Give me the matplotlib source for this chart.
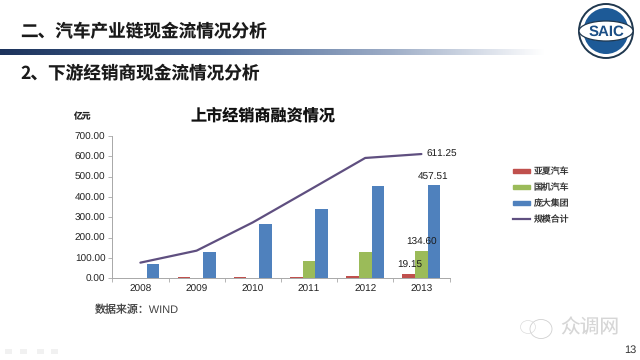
import numpy as np
import matplotlib
matplotlib.use("Agg")
import matplotlib.pyplot as plt
from matplotlib.patches import Ellipse, Rectangle, Patch
from matplotlib.lines import Line2D

CJK = ['Noto Sans CJK SC', 'DejaVu Sans']
LATIN_CJK = ['Liberation Sans', 'Noto Sans CJK SC', 'DejaVu Sans']
plt.rcParams['font.family'] = LATIN_CJK
plt.rcParams['text.hinting'] = 'no_hinting'
plt.rcParams['text.hinting_factor'] = 1

years = ['2008', '2009', '2010', '2011', '2012', '2013']
yaxia = [2, 4, 6, 6, 13, 19.15]
guoji = [0, 0, 0, 87, 127, 134.60]
pangda = [72, 128, 267, 340, 452, 457.51]
total = [77, 136, 275, 433, 592, 611.25]
yticks = [0, 100, 200, 300, 400, 500, 600, 700]
series_names = ['亚夏汽车', '国机汽车', '庞大集团', '规模合计']

W, H = 640, 360
fig = plt.figure(figsize=(6.4, 3.6), dpi=100, facecolor='white')

bg = fig.add_axes([0, 0, 1, 1])
bg.axis('off')

# gradient band
cols = np.array([[0.11, 0.20, 0.36], [0.30, 0.42, 0.60], [0.62, 0.68, 0.78], [1, 1, 1]])
t = np.linspace(0, 1, 256)
grad = np.stack([np.interp(t, [0, .4, .72, 1], cols[:, i]) for i in range(3)], axis=1)[None, :, :]
bg.imshow(grad, extent=[0, 545, 55, 49], aspect='auto', zorder=1)
bg.set_xlim(0, W); bg.set_ylim(H, 0)

bg.text(20, 31.5, '二、汽车产业链现金流情况分析', fontsize=12.7, fontweight='bold', family=CJK,
        color='#1a1a1a', va='center', ha='left')
bg.text(20, 73.5, '2、下游经销商现金流情况分析', fontsize=12.7, fontweight='bold', family=CJK,
        color='#1a1a1a', va='center', ha='left')
bg.text(263, 116, '上市经销商融资情况', fontsize=11.6, fontweight='bold', family=CJK,
        color='#111111', va='center', ha='center')
bg.text(81.5, 116.5, '亿元', fontsize=6.3, fontweight='bold', family=CJK, color='#222222', va='center', ha='center')
bg.text(95, 310.5, '数据来源\uff1aWIND', fontsize=7.9, family=LATIN_CJK, color='#444444', va='center', ha='left')
bg.text(630, 350, '13', fontsize=7.6, color='#333333', va='center', ha='center')
bg.text(590, 328, '众调网', fontsize=14.2, family=CJK, fontweight='light', color='#d6d6d6', va='center', ha='center')

# watermark bubbles
bg.add_patch(Ellipse((541, 329), 22, 19, fill=False, ec='#d0d0d0', lw=0.6))
bg.add_patch(Ellipse((528, 327), 15, 13, fill=False, ec='#dcdcdc', lw=0.5))

# footer glyphs
for x in [8.5, 23.5, 40, 54.5]:
    bg.add_patch(Rectangle((x - 3.5, 348.5), 7, 5, fc='#f1f1f1', ec='none'))

# SAIC logo
cx, cy = 606, 31
bg.add_patch(Ellipse((cx, cy), 54, 54, fc='white', ec='#20384f', lw=1.4, zorder=3))
bg.add_patch(Ellipse((cx, cy), 45, 46, fc='#1d5a97', ec='none', zorder=4))
bg.add_patch(Ellipse((cx, cy), 54, 20, fc='white', ec='#20384f', lw=0.9, zorder=5))
bg.text(cx, cy + 0.5, 'SAIC', fontsize=10.5, fontweight='bold', color='#1c4f86', va='center', ha='center', zorder=6)

# chart
x0, x1, y0, y1 = 112.3, 449.5, 278.3, 136
ax = fig.add_axes([x0 / W, 1 - y0 / H, (x1 - x0) / W, (y0 - y1) / H])
ax.patch.set_alpha(0)
x = np.arange(len(years))
bw = 0.225
ax.bar(x - bw, yaxia, bw, color='#c0504d')
ax.bar(x, guoji, bw, color='#9bbb59')
ax.bar(x + bw, pangda, bw, color='#4f81bd')
ax.plot(x, total, color='#5f4f80', lw=1.6, solid_capstyle='round')
ax.set_xlim(-0.5, 5.5); ax.set_ylim(0, 700)
ax.set_xticks(np.arange(-0.5, 6, 1)); ax.set_xticklabels([])
ax.set_xticks(x, minor=True); ax.set_xticklabels(years, minor=True)
ax.set_yticks(yticks); ax.set_yticklabels([f'{v:.2f}' for v in yticks])
ax.tick_params(axis='y', labelsize=7.1, length=3, width=0.6, color='#a8a8a8', labelcolor='#222222', pad=2)
ax.tick_params(axis='x', which='major', length=3, width=0.6, color='#a8a8a8')
ax.tick_params(axis='x', which='minor', length=0, labelsize=7.1, labelcolor='#222222', pad=4.5)
for s in ['top', 'right']:
    ax.spines[s].set_visible(False)
for s in ['left', 'bottom']:
    ax.spines[s].set_color('#a8a8a8'); ax.spines[s].set_linewidth(0.7)

lab = dict(fontsize=7.1, color='#1a1a1a', ha='center', va='center', textcoords='offset points')
ax.annotate(f'{total[5]:.2f}', (5, total[5]), xytext=(15, 0), **lab)
ax.annotate(f'{pangda[5]:.2f}', (5 + bw, pangda[5]), xytext=(-1, 6.5), **lab)
ax.annotate(f'{guoji[5]:.2f}', (5, guoji[5]), xytext=(0, 6.5), **lab)
ax.annotate(f'{yaxia[5]:.2f}', (5 - bw, yaxia[5]), xytext=(0.5, 6.5), **lab)

handles = [Patch(color='#c0504d'), Patch(color='#9bbb59'), Patch(color='#4f81bd'),
           Line2D([0], [0], color='#5f4f80', lw=1.6)]
fig.legend(handles, series_names, loc='center left', bbox_to_anchor=(513 / W, 1 - 195.5 / H), frameon=False,
           prop={'family': CJK, 'size': 6.4}, labelcolor='#333333', handlelength=1.9, handleheight=0.35,
           handletextpad=0.4, labelspacing=0.72, borderpad=0, borderaxespad=0)

fig.savefig('out.png', dpi=100)
